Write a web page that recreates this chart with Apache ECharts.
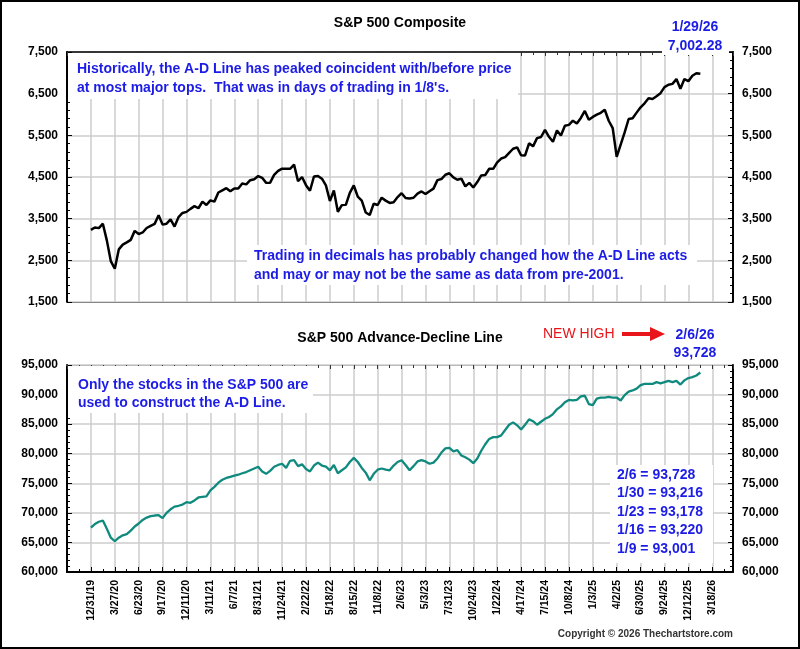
<!DOCTYPE html>
<html>
<head>
<meta charset="utf-8">
<script src="https://cdn.jsdelivr.net/npm/echarts@6/dist/echarts.min.js"></script>
<style>
  html, body { margin: 0; padding: 0; background: #fff; }
  #main { width: 800px; height: 649px; }
</style>
</head>
<body>
<div id="main"></div>
<script>
// x axis is trading days since 12/31/19; one point every 10 trading days
const STEP = 10;
const tickLabels = ['12/31/19', '3/27/20', '6/23/20', '9/17/20', '12/11/20', '3/11/21', '6/7/21',
  '8/31/21', '11/24/21', '2/22/22', '5/18/22', '8/15/22', '11/8/22', '2/6/23', '5/3/23', '7/31/23',
  '10/24/23', '1/22/24', '4/17/24', '7/15/24', '10/8/24', '1/3/25', '4/2/25', '6/30/25', '9/24/25',
  '12/12/25', '3/18/26'];

// S&P 500 Composite
const spx = [3231, 3289, 3273, 3379, 2979, 2481, 2300, 2762, 2878, 2930,
  2991, 3207, 3131, 3169, 3276, 3327, 3375, 3580, 3357, 3380,
  3483, 3310, 3537, 3638, 3663, 3735, 3801, 3750, 3910, 3829,
  3939, 3909, 4128, 4180, 4232, 4156, 4226, 4224, 4343, 4323,
  4423, 4448, 4523, 4480, 4359, 4364, 4551, 4646, 4701, 4701,
  4696, 4796, 4398, 4500, 4304, 4170, 4512, 4525, 4459, 4300,
  3923, 4176, 3666, 3825, 3831, 4118, 4297, 4030, 3932, 3647,
  3588, 3859, 3828, 4003, 3933, 3878, 3895, 4019, 4111, 3997,
  3986, 4002, 4100, 4154, 4090, 4158, 4221, 4425, 4450, 4554,
  4589, 4490, 4433, 4462, 4274, 4358, 4248, 4378, 4538, 4549,
  4698, 4697, 4850, 4943, 4976, 5079, 5178, 5211, 5022, 5018,
  5308, 5236, 5434, 5460, 5631, 5464, 5344, 5616, 5496, 5732,
  5751, 5851, 5782, 5917, 6086, 5872, 5942, 5997, 6041, 6115,
  5850, 5675, 4982, 5276, 5569, 5892, 5912, 6045, 6173, 6268,
  6390, 6374, 6439, 6512, 6656, 6714, 6735, 6850, 6617, 6850,
  6800, 6930, 6990, 6980];

// S&P 500 Advance-Decline Line
const adLine = [67500, 68100, 68500, 68700, 67300, 65800, 65200, 65800, 66200, 66400,
  67000, 67700, 68200, 68800, 69200, 69450, 69550, 69600, 69100, 70000,
  70600, 71050, 71200, 71400, 71800, 71700, 72100, 72600, 72700, 72800,
  73800, 74400, 75100, 75600, 75900, 76100, 76300, 76450, 76700, 76900,
  77200, 77500, 77800, 77000, 76600, 77100, 77800, 78100, 78300, 77600,
  78800, 78900, 77900, 78200, 77400, 77000, 78000, 78500, 78000, 77800,
  77200, 78100, 76700, 77200, 77700, 78600, 79300, 78600, 77600, 76800,
  75500, 76600, 77300, 77500, 77300, 77200, 78000, 78600, 78900, 78100,
  77200, 77900, 78700, 78900, 78700, 78300, 78500, 79200, 80200, 80900,
  81000, 80400, 80600, 79700, 79400, 79000, 78400, 79200, 80500, 81600,
  82500, 82800, 82800, 83100, 84000, 84900, 85300, 84800, 84100, 84900,
  85800, 85500, 84900, 85400, 85900, 86200, 86700, 87500, 88000, 88700,
  89100, 89000, 89100, 89700, 89800, 88400, 88200, 89300, 89500, 89500,
  89600, 89500, 89500, 89000, 89900, 90500, 90700, 91000, 91600, 91800,
  91800, 91800, 92100, 91900, 92100, 92300, 92100, 92300, 91700, 92400,
  92800, 92950, 93220, 93728];

const recentDates = ['2/6', '1/30', '1/23', '1/16', '1/9'];
const recentValues = [93728, 93216, 93178, 93220, 93001];

const FONT = '"Liberation Sans", Arial, sans-serif';
const BLUE = '#1c1ce6';
const RED = '#e8151b';
const GRIDC = '#cdcdcd';
const X_MIN = -60, X_MAX = 1612;

const fmtNum = v => v.toLocaleString('en-US');
const fmtDay = v => {
  const i = v / 60;
  return (i >= 0 && i === Math.round(i) && i < tickLabels.length) ? tickLabels[i] : '';
};

function xAxes(g, isBottomChart) {
  return [{
    gridIndex: g, type: 'value', position: 'bottom', min: X_MIN, max: X_MAX, interval: 60,
    axisLine: { onZero: false, lineStyle: isBottomChart ? { color: '#000', width: 2 } : { color: '#888', width: 1 } },
    axisTick: { show: isBottomChart, inside: true, length: 5, lineStyle: { color: '#000' } },
    minorTick: { show: isBottomChart, splitNumber: 2, length: 3, lineStyle: { color: '#000' } },
    axisLabel: isBottomChart ? {
      show: true, rotate: 90, margin: 8, fontSize: 10.5, fontWeight: 'bold', color: '#000',
      fontFamily: FONT, formatter: fmtDay
    } : { show: false },
    splitLine: { show: true, lineStyle: { color: GRIDC, width: 1.5 } }
  }, {
    gridIndex: g, type: 'value', position: 'top', min: X_MIN, max: X_MAX, interval: 60,
    axisLine: { onZero: false, lineStyle: isBottomChart ? { color: '#bbb', width: 1 } : { color: '#000', width: 1.5 } },
    axisTick: { show: true, inside: true, length: 4, lineStyle: { color: '#333' } },
    minorTick: { show: true, splitNumber: 2, length: 3, lineStyle: { color: '#333' } },
    axisLabel: { show: false },
    splitLine: { show: false }
  }];
}

function yAxes(g, min, max, interval) {
  const common = {
    gridIndex: g, type: 'value', min: min, max: max, interval: interval,
    axisLine: { show: true, onZero: false, lineStyle: { color: '#000', width: 2 } },
    axisTick: { show: true, inside: true, length: 5, lineStyle: { color: '#000' } },
    minorTick: { show: true, splitNumber: 5, length: 3, lineStyle: { color: '#000' } },
    axisLabel: { margin: 9, fontSize: 12, fontWeight: 'bold', color: '#000', fontFamily: FONT, formatter: fmtNum }
  };
  return [
    Object.assign({}, common, { position: 'left', splitLine: { show: true, lineStyle: { color: GRIDC, width: 1.5 } } }),
    Object.assign({}, common, { position: 'right', splitLine: { show: false } })
  ];
}

function txt(x, y, text, color, font, align) {
  return {
    type: 'text', x: x, y: y, z: 110,
    style: { text: text, fill: color, font: font, align: align || 'left', verticalAlign: 'middle',
      textAlign: align || 'left', textVerticalAlign: 'middle' }
  };
}
function box(x, y, w, h) {
  return { type: 'rect', z: 105, shape: { x: x, y: y, width: w, height: h }, style: { fill: '#fff' } };
}

const bold14 = 'bold 14px ' + FONT;
const graphics = [
  box(68, 53, 450, 46),
  box(247, 245, 450, 40),
  box(662, 36, 67, 19),
  box(68, 366, 245, 47),
  box(610, 465, 103, 98),
  txt(400, 23, 'S&P 500 Composite', '#000', bold14, 'center'),
  txt(400, 338, 'S&P 500 Advance-Decline Line', '#000', bold14, 'center'),
  txt(77, 69, 'Historically, the A-D Line has peaked coincident with/before price', BLUE, bold14),
  txt(77, 88, 'at most major tops.  That was in days of trading in 1/8\'s.', BLUE, bold14),
  txt(254, 256, 'Trading in decimals has probably changed how the A-D Line acts', BLUE, bold14),
  txt(254, 275, 'and may or may not be the same as data from pre-2001.', BLUE, bold14),
  txt(695, 27, '1/29/26', BLUE, bold14, 'center'),
  txt(695, 46, '7,002.28', BLUE, bold14, 'center'),
  txt(78, 385, 'Only the stocks in the S&P 500 are', BLUE, bold14),
  txt(78, 403, 'used to construct the A-D Line.', BLUE, bold14),
  txt(543, 334, 'NEW HIGH', RED, '14px ' + FONT),
  { type: 'line', z: 110, shape: { x1: 622, y1: 334, x2: 654, y2: 334 }, style: { stroke: RED, lineWidth: 4 } },
  { type: 'polygon', z: 110, shape: { points: [[650, 327], [665, 334], [650, 341]] }, style: { fill: RED } },
  txt(695, 335, '2/6/26', BLUE, bold14, 'center'),
  txt(695, 353, fmtNum(adLine[adLine.length - 1]), BLUE, bold14, 'center'),
  txt(733, 634, 'Copyright \u00a9 2026 Thechartstore.com', '#333', 'bold 10px ' + FONT, 'right'),
  { type: 'rect', z: 120, shape: { x: 1, y: 1, width: 798, height: 647 }, style: { fill: null, stroke: '#000', lineWidth: 2 } }
];
recentDates.forEach((d, i) => {
  graphics.push(txt(617, 475 + i * 18.5, d + ' = ' + fmtNum(recentValues[i]), BLUE, bold14));
});

const chart = echarts.init(document.getElementById('main'), null, { renderer: 'canvas' });
chart.setOption({
  animation: false,
  backgroundColor: '#fff',
  grid: [
    { left: 67, right: 67, top: 52, height: 250, containLabel: false, outerBoundsMode: 'none' },
    { left: 67, right: 67, top: 365, height: 207, containLabel: false, outerBoundsMode: 'none' }
  ],
  xAxis: xAxes(0, false).concat(xAxes(1, true)),
  yAxis: yAxes(0, 1500, 7500, 1000).concat(yAxes(1, 60000, 95000, 5000)),
  series: [{
    name: 'S&P 500 Composite', type: 'line', xAxisIndex: 0, yAxisIndex: 0,
    showSymbol: false, symbol: 'none',
    lineStyle: { color: '#000', width: 2.5 },
    data: spx.map((v, i) => [i * STEP, v])
  }, {
    name: 'S&P 500 Advance-Decline Line', type: 'line', xAxisIndex: 2, yAxisIndex: 2,
    showSymbol: false, symbol: 'none',
    lineStyle: { color: '#108a7e', width: 2.3 },
    data: adLine.map((v, i) => [i * STEP, v])
  }],
  graphic: graphics
});
</script>
</body>
</html>
